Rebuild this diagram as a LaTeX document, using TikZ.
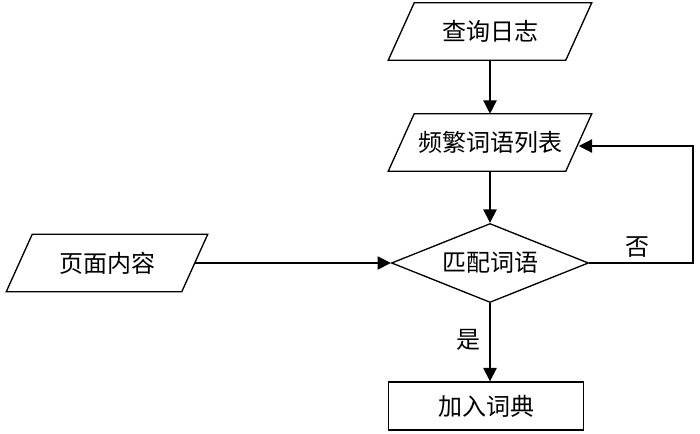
\documentclass[tikz,border=0pt]{standalone}
\usepackage{fontspec}
\setmainfont{Noto Sans CJK SC}
\usetikzlibrary{shapes.geometric,arrows.meta,calc}
\begin{document}
\begin{tikzpicture}[x=0.75pt,y=-0.75pt,
  every node/.style={font=\fontsize{18}{20}\selectfont},
  iobox/.style={rectangle,inner sep=0pt,minimum height=57*0.75pt},
  slantline/.style={line width=1pt,line join=miter},
  decision/.style={diamond,draw,line width=1pt,inner sep=0pt,shape aspect=2.5,
    minimum width=197*0.75pt,minimum height=79*0.75pt},
  procbox/.style={rectangle,draw,line width=1pt,minimum width=195*0.75pt,minimum height=48*0.75pt},
  flow/.style={line width=1pt,-{Triangle[length=10pt,width=10pt]}},
  lbl/.style={inner sep=0pt}]
\useasboundingbox (0,0) rectangle (700,434);
\node[iobox,minimum width=177*0.75pt] (q) at (490,31.5) {查询日志};
\node[iobox,minimum width=177*0.75pt] (f) at (490,142.5) {频繁词语列表};
\node[iobox,minimum width=175*0.75pt] (p) at (107,263) {页面内容};
\node[decision] (d) at (490,263) {匹配词语};
\node[procbox] (a) at (486,406) {加入词典};
\foreach \n in {q,f,p}{
  \draw[slantline] ([xshift=13*0.75pt]\n.north west) -- ([xshift=13*0.75pt]\n.north east)
    -- ([xshift=-13*0.75pt]\n.south east) -- ([xshift=-13*0.75pt]\n.south west) -- cycle;
}
\coordinate (c1) at (693,263);
\coordinate (c2) at (693,146);
\draw[flow] (q.south) -- (f.north);
\draw[flow] (f.south) -- (d.north);
\draw[flow] (p.east) -- (d.west);
\draw[flow] (d.south) -- (d.south |- a.north);
\draw[flow] (d.east) -- (c1) -- (c2) -- (c2 -| f.east);
\node[lbl] (no) at (637,247) {否};
\node[lbl] (yes) at (468,340) {是};
\end{tikzpicture}
\end{document}
